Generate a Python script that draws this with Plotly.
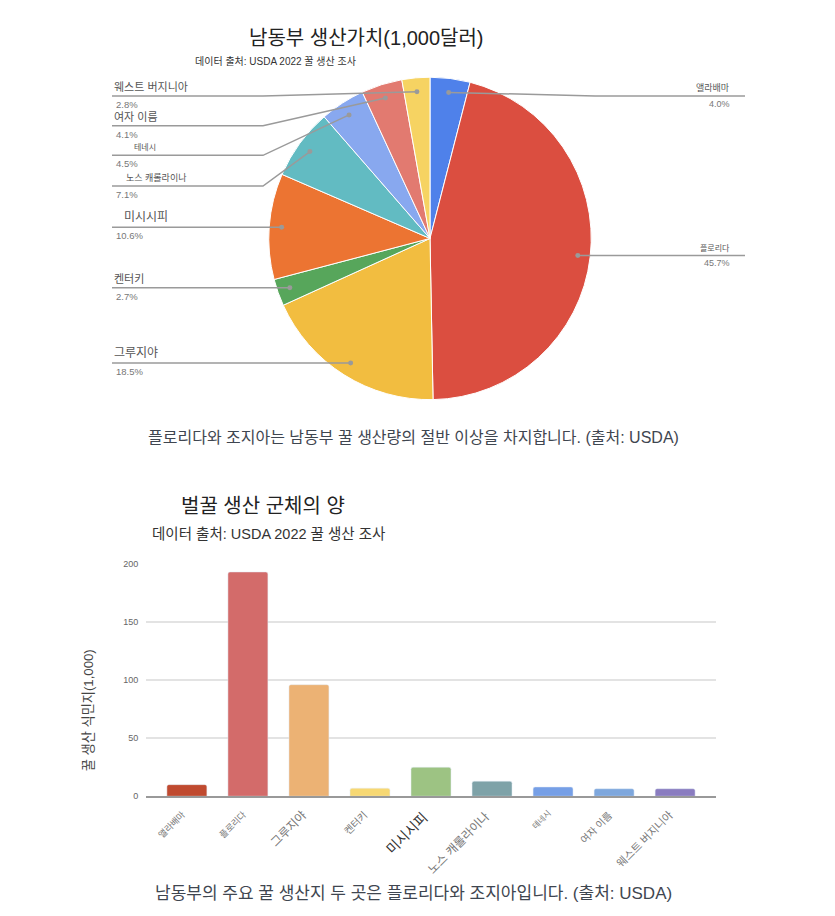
import math
import plotly.graph_objects as go

# ---------------- data ----------------
pie_states = ["앨라배마", "플로리다", "그루지야", "켄터키", "미시시피",
              "노스 캐롤라이나", "테네시", "여자 이름", "웨스트 버지니아"]
pie_share = [4.0, 45.7, 18.5, 2.7, 10.6, 7.1, 4.5, 4.1, 2.8]

bar_states = ["앨라배마", "플로리다", "그루지야", "켄터키", "미시시피",
              "노스 캐롤라이나", "테네시", "여자 이름", "웨스트 버지니아"]
bar_colonies = [10, 193, 96, 7, 25, 13, 8, 6.5, 6.5]
y_ticks = [0, 50, 100, 150, 200]

# ---------------- style ----------------
W, H = 835, 916
FONT = "Liberation Sans, Noto Sans CJK KR, sans-serif"
pie_colors = ["#4f81ea", "#db4e40", "#f2bd40", "#57a65b", "#ec7432",
              "#62bbc2", "#88a8ef", "#e27a70", "#f6d362"]
bar_colors = ["#c04a2f", "#d36b6a", "#ecb274", "#f7d873", "#9dc383",
              "#7ea2a8", "#769fe6", "#7ea7dd", "#8a7cc0"]
# pie geometry (pixels)
PCX, PCY, PR = 430, 236, 160
PR_DOMAIN = 163
DOT_R = 0.93 * PR
# label layout for crowded slices (pixel y of the leader line)
line_y_override = {"앨라배마": 92, "웨스트 버지니아": 92, "여자 이름": 122,
                   "테네시": 152, "노스 캐롤라이나": 183}
name_font = {"앨라배마": 9, "플로리다": 8, "그루지야": 12, "켄터키": 11, "미시시피": 12,
             "노스 캐롤라이나": 9, "테네시": 8, "여자 이름": 11, "웨스트 버지니아": 11}
name_dx = {"테네시": 20, "노스 캐롤라이나": 12, "미시시피": 10}
tick_font = {"앨라배마": 9, "플로리다": 9, "그루지야": 12, "켄터키": 10, "미시시피": 14,
             "노스 캐롤라이나": 12, "테네시": 8, "여자 이름": 10, "웨스트 버지니아": 11}

fig = go.Figure()

fig.add_trace(go.Pie(
    labels=pie_states, values=pie_share, sort=False, direction="clockwise",
    rotation=0, textinfo="none", hoverinfo="label+percent",
    marker=dict(colors=pie_colors, line=dict(color="white", width=1)),
    domain=dict(x=[(PCX - PR_DOMAIN) / W, (PCX + PR_DOMAIN) / W],
                y=[1 - (PCY + PR_DOMAIN) / H, 1 - (PCY - PR_DOMAIN) / H]),
    showlegend=False))

fig.add_trace(go.Bar(
    x=list(range(len(bar_states))), y=bar_colonies, marker_color=bar_colors,
    width=0.655, marker_cornerradius=2, hovertext=bar_states,
    showlegend=False, xaxis="x", yaxis="y"))

# invisible helper trace so the pixel-space overlay axes exist
fig.add_trace(go.Scatter(x=[0], y=[0], mode="markers", marker=dict(opacity=0),
                         xaxis="x2", yaxis="y2", showlegend=False, hoverinfo="skip"))

shapes = []
annotations = []

def ann(text, x, y, size, color, xanchor="center", yanchor="middle", **kw):
    annotations.append(dict(text=text, x=x, y=y, xref="x2", yref="y2",
                            showarrow=False, xanchor=xanchor, yanchor=yanchor,
                            font=dict(size=size, color=color, family=FONT), **kw))

# pie leader lines and labels, derived from the slice values
total = sum(pie_share)
cum = 0.0
for name, v in zip(pie_states, pie_share):
    mid = (cum + v / 2) / total * 2 * math.pi
    cum += v
    dx, dy = PCX + DOT_R * math.sin(mid), PCY - DOT_R * math.cos(mid)
    ly = line_y_override.get(name, dy)
    pct = f"{v / total * 100:.1f}%"
    if math.sin(mid) >= 0:
        elbow = max(dx, 595)
        path = f"M{dx},{dy} L{elbow},{ly} L745,{ly}"
        ann(name, 732, ly - 1, name_font[name], "#555", "right", "bottom")
        ann(pct, 732, ly + 1, 9, "#777", "right", "top")
    else:
        elbow = min(dx, 263)
        path = f"M{dx},{dy} L{elbow},{ly} L112,{ly}"
        ann(name, 112 + name_dx.get(name, 0), ly - 1, name_font[name], "#555", "left", "bottom")
        ann(pct, 114, ly + 1, 9.5, "#777", "left", "top")
    shapes.append(dict(type="path", path=path, xref="x2", yref="y2",
                       line=dict(color="#9a9a9a", width=1.5), layer="above"))
    shapes.append(dict(type="circle", xref="x2", yref="y2",
                       x0=dx - 2.5, x1=dx + 2.5, y0=dy - 2.5, y1=dy + 2.5,
                       fillcolor="#9a9a9a", line=dict(width=0), layer="above"))

# titles / captions
ann("남동부 생산가치(1,000달러)", 366, 33, 20, "#222")
ann("데이터 출처: USDA 2022 꿀 생산 조사", 193, 57, 10, "#333", "left")
ann("플로리다와 조지아는 남동부 꿀 생산량의 절반 이상을 차지합니다. (출처: USDA)",
    413, 437, 16, "#3f4650")
ann("벌꿀 생산 군체의 양", 263, 507, 20, "#222")
ann("데이터 출처: USDA 2022 꿀 생산 조사", 150, 535, 14.5, "#333", "left")
ann("꿀 생산 식민지(1,000)", 88, 713, 13.2, "#444", textangle=-90)
ann("남동부의 주요 꿀 생산지 두 곳은 플로리다와 조지아입니다. (출처: USDA)",
    413, 898, 17, "#3f4650")

# rotated category labels under the bars
for i, name in enumerate(bar_states):
    annotations.append(dict(text=name, x=i + 0.05, y=810, xref="x", yref="y2",
                            showarrow=False, xanchor="right", yanchor="top",
                            textangle=-45,
                            font=dict(size=tick_font[name],
                                      color="#333" if name == "미시시피" else "#777",
                                      family=FONT)))

fig.update_layout(
    width=W, height=H, autosize=False,
    margin=dict(l=0, r=0, t=0, b=0),
    paper_bgcolor="white", plot_bgcolor="rgba(0,0,0,0)",
    font=dict(family=FONT),
    shapes=shapes, annotations=annotations,
    xaxis=dict(domain=[146 / W, 716 / W], range=[-0.67, 8.67], showgrid=False,
               showticklabels=False, zeroline=False, showline=True,
               linecolor="#999", linewidth=1.5, fixedrange=True),
    yaxis=dict(domain=[1 - 800 / H, 1 - 565 / H], range=[0, 200], tickvals=y_ticks,
               tickfont=dict(size=9, color="#666", family=FONT),
               ticks="outside", ticklen=5, tickcolor="rgba(0,0,0,0)",
               showgrid=True, gridcolor="#e3e3e3", gridwidth=1.5,
               zeroline=False, showline=False, fixedrange=True),
    xaxis2=dict(domain=[0, 1], range=[0, W], anchor="y2", visible=False, fixedrange=True),
    yaxis2=dict(domain=[0, 1], range=[H, 0], anchor="x2", visible=False, fixedrange=True),
)

fig.write_html("out.html", config={"displayModeBar": False},
               post_script="document.body.style.margin='0px';document.body.style.overflow='hidden';")
